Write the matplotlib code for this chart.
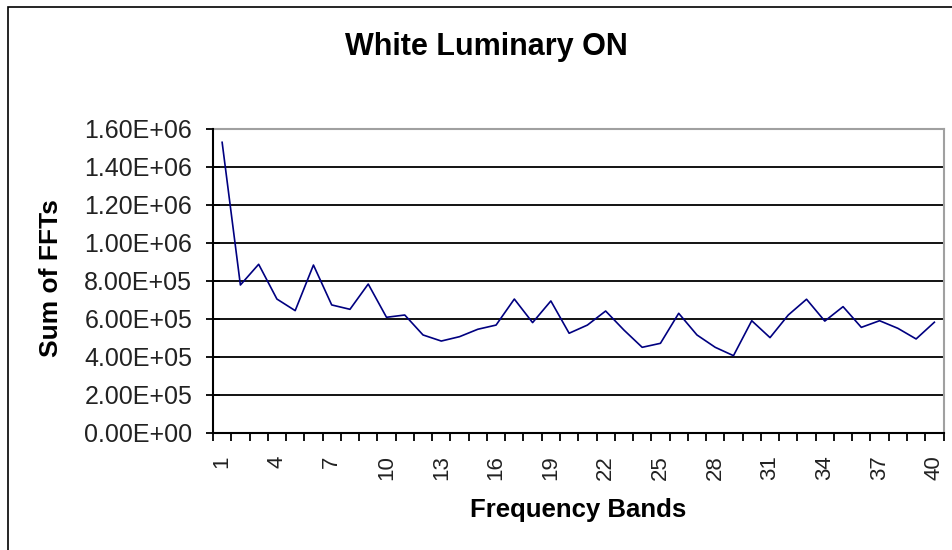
import matplotlib
matplotlib.use('Agg')
import matplotlib.pyplot as plt
from matplotlib.patches import Rectangle
from matplotlib.ticker import FixedLocator, FuncFormatter

plt.rcParams['font.family'] = ['Liberation Sans', 'DejaVu Sans']

# frequency bands 1..40 and the summed FFT values
bands = list(range(1, 41))
fft_sums = [1.53e6, 0.779e6, 0.888e6, 0.705e6, 0.644e6, 0.884e6, 0.674e6, 0.651e6,
            0.784e6, 0.609e6, 0.621e6, 0.516e6, 0.484e6, 0.507e6, 0.546e6, 0.568e6,
            0.705e6, 0.581e6, 0.695e6, 0.525e6, 0.568e6, 0.642e6, 0.542e6, 0.451e6,
            0.472e6, 0.630e6, 0.516e6, 0.451e6, 0.407e6, 0.591e6, 0.502e6, 0.621e6,
            0.704e6, 0.589e6, 0.665e6, 0.556e6, 0.591e6, 0.551e6, 0.495e6, 0.583e6]
label_bands = bands[::3]
y_ticks = [0, 2e5, 4e5, 6e5, 8e5, 1.0e6, 1.2e6, 1.4e6, 1.6e6]

W, H = 952, 550
fig = plt.figure(figsize=(W / 100, H / 100), dpi=100)

# outer chart frame (only left and top edges fall inside the picture)
fig.patches.append(Rectangle((8 / W, -0.1), 1.2, 1 - 7 / H + 0.1, transform=fig.transFigure,
                             fill=False, edgecolor='black', linewidth=1.2))

ax = fig.add_axes([213 / W, 1 - 433 / H, (943.5 - 213) / W, (433 - 129) / H])

ax.plot(bands, fft_sums, color='#000080', linewidth=1.2, zorder=3)

ax.set_xlim(0.5, 40.5)
ax.set_ylim(0, 1.6e6)

# horizontal grid
for v in y_ticks[1:-1]:
    ax.axhline(v, color='black', linewidth=1.3, zorder=1)

ax.set_yticks(y_ticks)
ax.yaxis.set_major_formatter(FuncFormatter(lambda v, p: '{:.2E}'.format(v)))
ax.tick_params(axis='y', direction='inout', length=10, width=1.3, pad=10,
               labelsize=18, labelcolor='#222222')

# category boundaries carry tick marks, labels sit on every third category
ax.xaxis.set_major_locator(FixedLocator(label_bands))
ax.xaxis.set_minor_locator(FixedLocator([b - 0.5 for b in bands] + [40.5]))
ax.set_xticklabels([str(b) for b in label_bands], rotation=90)
ax.tick_params(axis='x', which='major', length=0, pad=16, labelsize=16,
               labelcolor='#222222')
ax.tick_params(axis='x', which='minor', direction='out', length=6, width=1.3)
for lbl in ax.get_xticklabels():
    lbl.set_va('top')

for side in ['left', 'bottom']:
    ax.spines[side].set_color('black')
    ax.spines[side].set_linewidth(1.5)
for side in ['top', 'right']:
    ax.spines[side].set_color('#a0a0a0')
    ax.spines[side].set_linewidth(1.5)
ax.spines['left'].set_zorder(4)

fig.text(486 / W, 1 - 55 / H, 'White Luminary ON', ha='center', va='baseline',
         fontsize=22, fontweight='bold')
fig.text(50.7 / W, 1 - 278 / H, 'Sum of FFTs', ha='center', va='center',
         rotation=90, fontsize=19, fontweight='bold')
fig.text(578 / W, 1 - 516.7 / H, 'Frequency Bands', ha='center', va='baseline',
         fontsize=18.5, fontweight='bold')

fig.savefig('out.png', dpi=100)
